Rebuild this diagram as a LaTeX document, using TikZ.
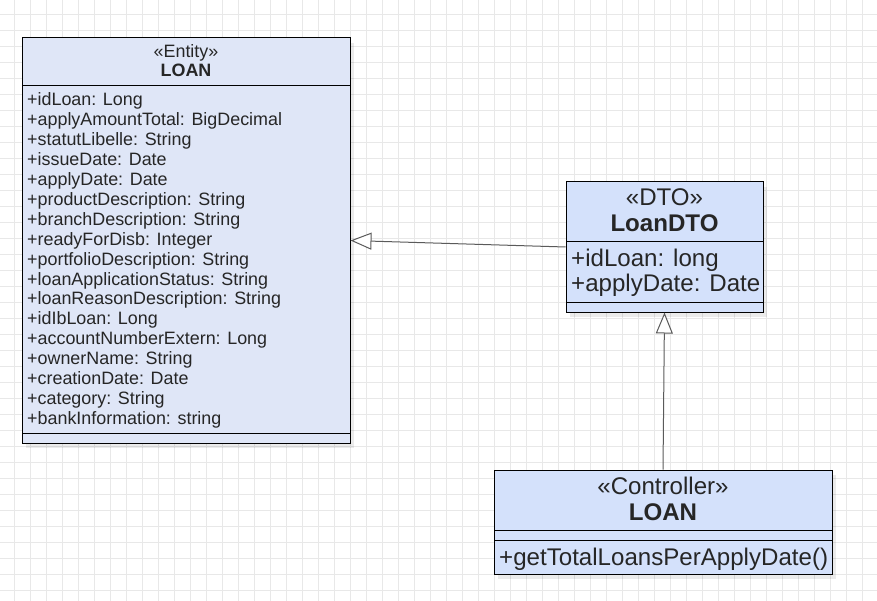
\documentclass[tikz,border=0pt]{standalone}
\usepackage{fontspec}
\setmainfont{Liberation Sans}
\usetikzlibrary{arrows.meta,shadows}

\definecolor{entityblue}{HTML}{DFE6F7}
\definecolor{dtoblue}{HTML}{D4E1FB}
\definecolor{gridgray}{HTML}{E8E8E8}
\definecolor{linkgray}{HTML}{5A5A5A}

\tikzset{
  gridline/.style={draw=gridgray, line width=1.2pt},
  umlbox/.style={draw=black, line width=1pt,
    drop shadow={shadow xshift=4pt, shadow yshift=-5pt, opacity=.08, fill=black}},
  divider/.style={draw=black, line width=1pt},
  smalltext/.style={font=\fontsize{17.9}{20}\selectfont, text=black!85, inner sep=0pt},
  bigtext/.style={font=\fontsize{24.1}{26}\selectfont, text=black!85, inner sep=0pt},
  genarrow/.style={draw=linkgray, line width=1pt,
    -{Triangle[length=21pt, width=17pt, fill=white]}},
}

\begin{document}
\begin{tikzpicture}[x=1pt, y=-1pt]
  \useasboundingbox (0,0) rectangle (877,601);
  % background grid
  \foreach \gx in {0,...,54}
    \draw[gridline] ({14.5+16*\gx},0) -- ({14.5+16*\gx},601);
  \foreach \gy in {0,...,36}
    \draw[gridline] (0,{14.5+16*\gy}) -- (877,{14.5+16*\gy});

  % entity class
  \node[umlbox, fill=entityblue, minimum width=328pt, minimum height=405pt] (entity) at (186,240.5) {};
  \draw[divider] (22,86) -- (350,86);
  \draw[divider] (22,433.5) -- (350,433.5);
  \node[smalltext, anchor=base] (entitystereo) at (186,57.3) {«Entity»};
  \node[smalltext, anchor=base, font=\fontsize{17.9}{20}\selectfont\bfseries] (entityname) at (186,76.7) {LOAN};
  \foreach \attr [count=\i from 0] in {+idLoan: Long, +applyAmountTotal: BigDecimal,
      +statutLibelle: String, +issueDate: Date, +applyDate: Date,
      +productDescription: String, +branchDescription: String,
      +readyForDisb: Integer, +portfolioDescription: String,
      +loanApplicationStatus: String, +loanReasonDescription: String,
      +idIbLoan: Long, +accountNumberExtern: Long, +ownerName: String,
      +creationDate: Date, +category: String, +bankInformation: string}
    \node[smalltext, anchor=base west] (entityattr\i) at (27,{106+19.9*\i}) {\attr};

  % dto class
  \node[umlbox, fill=dtoblue, minimum width=197pt, minimum height=130pt] (dto) at (664.5,247) {};
  \draw[divider] (566,242) -- (763,242);
  \draw[divider] (566,302) -- (763,302);
  \node[bigtext, anchor=base] (dtostereo) at (664.5,206) {«DTO»};
  \node[bigtext, anchor=base, font=\fontsize{24.1}{26}\selectfont\bfseries] (dtoname) at (664.5,231.7) {LoanDTO};
  \node[bigtext, anchor=base west] (dtoattr0) at (571,266.7) {+idLoan: long};
  \node[bigtext, anchor=base west] (dtoattr1) at (571,291.7) {+applyDate: Date};

  % controller class
  \node[umlbox, fill=dtoblue, minimum width=338pt, minimum height=104pt] (ctrl) at (663,522) {};
  \draw[divider] (494,530) -- (832,530);
  \draw[divider] (494,540) -- (832,540);
  \node[bigtext, anchor=base] (ctrlstereo) at (663,494) {«Controller»};
  \node[bigtext, anchor=base, font=\fontsize{24.1}{26}\selectfont\bfseries] (ctrlname) at (663,520) {LOAN};
  \node[bigtext, anchor=base west] (ctrlop0) at (499,565) {+getTotalLoansPerApplyDate()};

  % generalisations
  \draw[genarrow] (dto.west) -- (entity.east);
  \draw[genarrow] (ctrl.north) -- (dto.south);
\end{tikzpicture}
\end{document}
